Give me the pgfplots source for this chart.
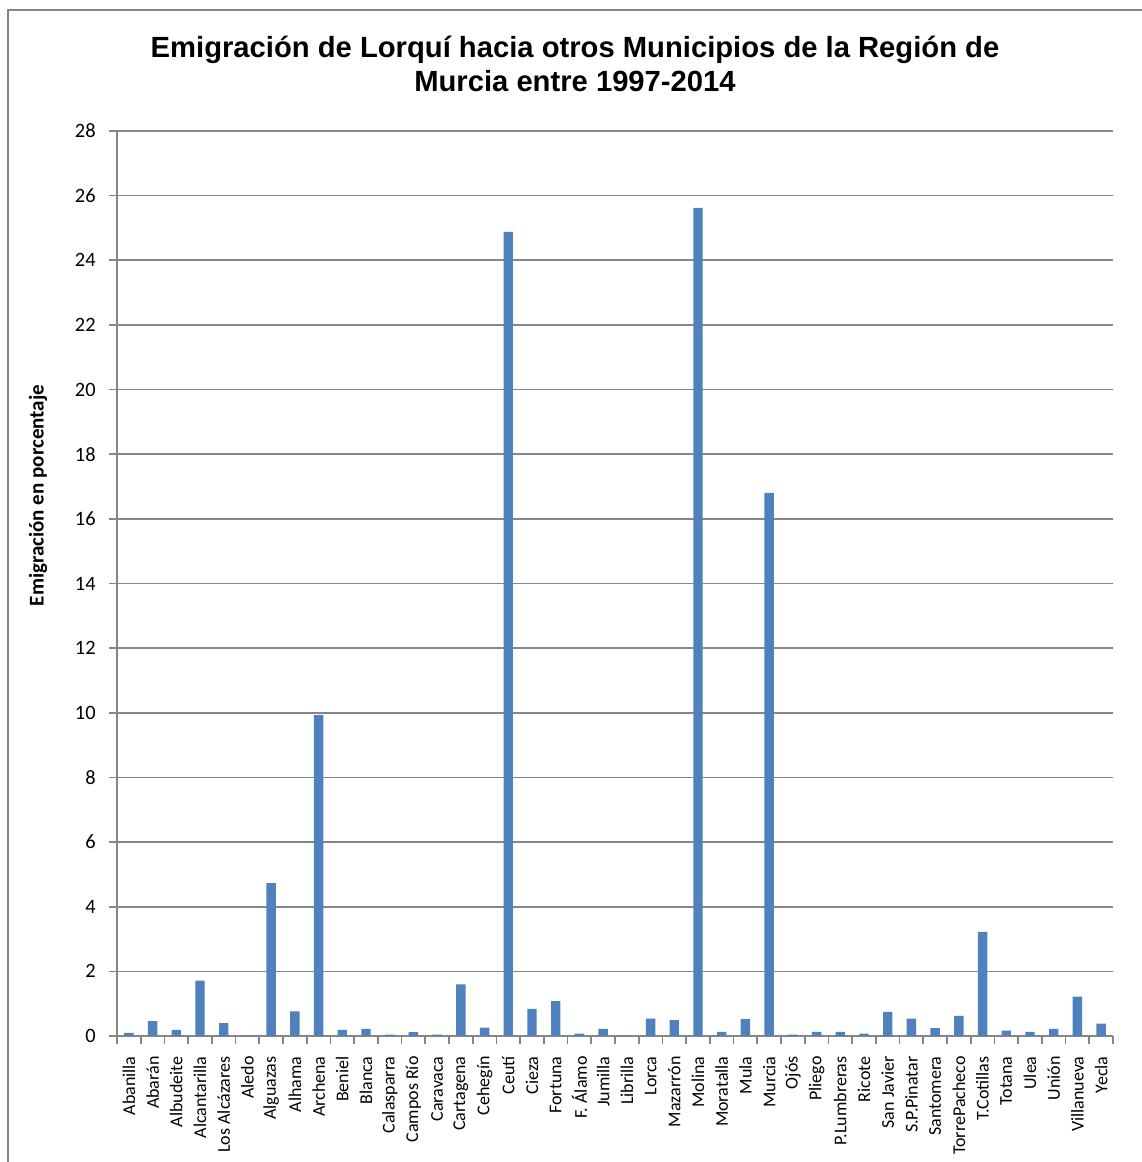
\documentclass[border=0pt]{standalone}
\usepackage{pgfplots}
\pgfplotsset{compat=1.18}
\usepackage{fontspec}
\setmainfont{Carlito}
\newfontfamily\arialfont{Liberation Sans}
\definecolor{barblue}{HTML}{4F81BD}
\definecolor{gridgray}{HTML}{868686}
\begin{document}
\begin{tikzpicture}[x=0.5pt,y=0.5pt]
\useasboundingbox (-117,-126) rectangle (1024,1036);
\draw[gridgray,line width=1.2pt] (-109,-200) -- (-109,1026) -- (1200,1026);
\begin{axis}[
  at={(0,0)}, anchor=south west,
  scale only axis,
  width=498pt, height=452.5pt,
  ymin=0, ymax=28, ytick={0,2,...,28},
  xmin=-0.5, xmax=41.5,
  xtick={0,...,41},
  xticklabels={Abanilla,Abarán,Albudeite,Alcantarilla,Los Alcázares,Aledo,Alguazas,Alhama,Archena,Beniel,Blanca,Calasparra,Campos Río,Caravaca,Cartagena,Cehegín,Ceutí,Cieza,Fortuna,F. Álamo,Jumilla,Librilla,Lorca,Mazarrón,Molina,Moratalla,Mula,Murcia,Ojós,Pliego,P.Lumbreras,Ricote,San Javier,S.P.Pinatar,Santomera,TorrePacheco,T.Cotillas,Totana,Ulea,Unión,Villanueva,Yecla},
  minor xtick={-0.5,0.5,...,41.5},
  major x tick style={draw=none},
  minor tick length=4pt,
  ytick style={draw=gridgray, line width=0.8pt},
  major tick length=4pt,
  tick align=outside,
  xticklabel style={rotate=90, anchor=east, font=\fontsize{9}{10}\selectfont, inner sep=0pt},
  yticklabel style={font=\fontsize{10.2}{11}\selectfont, inner sep=0pt},
  yticklabel shift=6.5pt,
  xticklabel shift=6pt,
  /pgf/number format/assume math mode=true,
  ymajorgrids,
  grid style={gridgray, line width=0.8pt},
  axis lines*=left,
  axis line style={gridgray, line width=0.8pt},
  ybar, bar width=4.7pt,
  minor x tick style={draw=gridgray, line width=0.8pt},
  clip=false,
]
\addplot[fill=barblue, draw=none] coordinates {
(0,0.10) (1,0.46) (2,0.19) (3,1.71) (4,0.40) (5,0.02) (6,4.73) (7,0.76) (8,9.93) (9,0.19)
(10,0.22) (11,0.04) (12,0.12) (13,0.04) (14,1.60) (15,0.26) (16,24.88) (17,0.84) (18,1.08) (19,0.07)
(20,0.22) (21,0.02) (22,0.54) (23,0.49) (24,25.62) (25,0.13) (26,0.52) (27,16.80) (28,0.04) (29,0.13)
(30,0.13) (31,0.07) (32,0.75) (33,0.54) (34,0.24) (35,0.62) (36,3.22) (37,0.17) (38,0.13) (39,0.22)
(40,1.22) (41,0.38)
};
\node[rotate=90, font=\bfseries\fontsize{10.5}{11}\selectfont] at ([xshift=-39.5pt,yshift=44pt]axis description cs:0,0.5) {Emigración en porcentaje};
\end{axis}
\node[font=\arialfont\bfseries\fontsize{14.6}{17}\selectfont, align=center] at (458,972) {Emigración de Lorquí hacia otros Municipios de la Región de\\Murcia entre 1997-2014};
\end{tikzpicture}
\end{document}
